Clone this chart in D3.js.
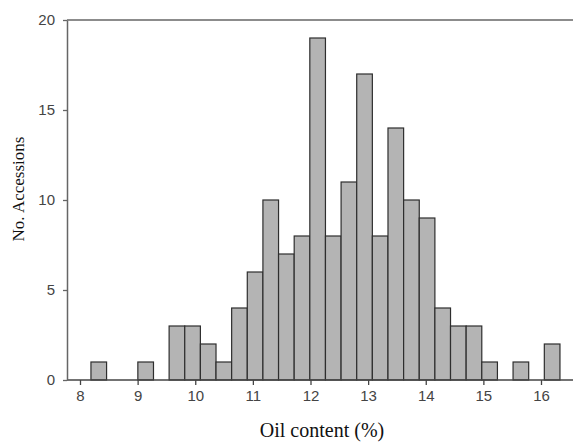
<!DOCTYPE html>
<html>
<head>
<meta charset="utf-8">
<script src="https://cdn.jsdelivr.net/npm/d3@7"></script>
<style>
  body { margin: 0; background: #fff; }
  .tick text { font-family: "Liberation Sans", Arial, sans-serif; font-size: 15px; fill: #444; }
  .axis-title { font-family: "Liberation Serif", "Times New Roman", serif; fill: #111; }
</style>
</head>
<body>
<div class="svg-container"></div>
<script>
// Global Variables
const canvasWidth = 573;
const canvasHeight = 442;
const margin = { top: 20, right: 0, bottom: 62, left: 67 };

// Data - histogram bins (oil content %) and counts
const binStart = 8.19;
const binWidth = 0.2713;
const counts = [1, 0, 0, 1, 0, 3, 3, 2, 1, 4, 6, 10, 7, 8, 19, 8, 11, 17, 8, 14, 10, 9, 4, 3, 3, 1, 0, 1, 0, 2];
const xTicks = [8, 9, 10, 11, 12, 13, 14, 15, 16];
const yTicks = [0, 5, 10, 15, 20];

const bins = counts.map((c, i) => ({
    x0: binStart + i * binWidth,
    x1: binStart + (i + 1) * binWidth,
    count: c
}));

// Scales X - Y
const xScale = d3.scaleLinear().domain([8, 16]).range([80, 541]);
const yScale = d3.scaleLinear().domain([0, 20]).range([canvasHeight - margin.bottom, margin.top]);

const svg = d3.select(".svg-container")
    .append("svg")
    .attr("width", canvasWidth)
    .attr("height", canvasHeight);

// Frame: top line
svg.append("line")
    .attr("x1", margin.left).attr("x2", canvasWidth)
    .attr("y1", margin.top).attr("y2", margin.top)
    .attr("stroke", "#666").attr("stroke-width", 1.5);

// Bars
svg.append("g")
    .selectAll("rect")
    .data(bins.filter((d) => d.count > 0))
    .enter()
    .append("rect")
    .attr("x", (d) => xScale(d.x0))
    .attr("y", (d) => yScale(d.count))
    .attr("width", (d) => xScale(d.x1) - xScale(d.x0))
    .attr("height", (d) => yScale(0) - yScale(d.count))
    .style("fill", "#b4b4b4")
    .style("stroke", "#2e2e2e")
    .style("stroke-width", 1.2);

// Axes
const xAxis = d3.axisBottom(xScale).tickValues(xTicks).tickSize(5).tickSizeOuter(0).tickPadding(5);
const yAxis = d3.axisLeft(yScale).tickValues(yTicks).tickSize(4).tickSizeOuter(0).tickPadding(8);

const gx = svg.append("g")
    .attr("transform", `translate(0, ${yScale(0)})`)
    .call(xAxis);
gx.select(".domain").remove();
gx.append("line")
    .attr("x1", margin.left).attr("x2", canvasWidth)
    .attr("stroke", "#444").attr("stroke-width", 1.5);
gx.selectAll(".tick line").attr("stroke", "#444").attr("stroke-width", 1.3);

const gy = svg.append("g")
    .attr("transform", `translate(${margin.left}, 0)`)
    .call(yAxis);
gy.select(".domain").attr("stroke", "#666").attr("stroke-width", 1.5);
gy.selectAll(".tick line").attr("stroke", "#666").attr("stroke-width", 1.3);

// Axis titles
svg.append("text")
    .attr("class", "axis-title")
    .attr("x", 322)
    .attr("y", 437)
    .attr("text-anchor", "middle")
    .style("font-size", "20px")
    .text("Oil content (%)");

svg.append("text")
    .attr("class", "axis-title")
    .attr("x", -189)
    .attr("y", 24)
    .attr("text-anchor", "middle")
    .attr("transform", "rotate(-90)")
    .style("font-size", "17px")
    .text("No. Accessions");
</script>
</body>
</html>
